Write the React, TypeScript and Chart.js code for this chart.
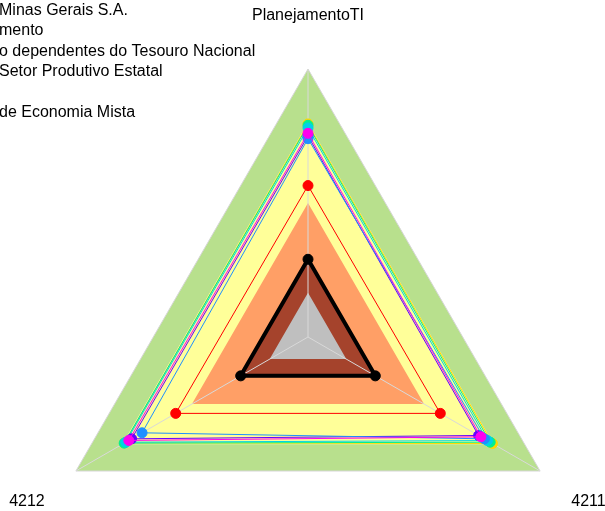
import React, { useEffect, useRef } from "react";
import { Chart, registerables } from "chart.js";

Chart.register(...registerables);

// ---- data ----
const axisLabels = ["PlanejamentoTI", "4211", "4212"];

const bandLevels = [100, 80, 50, 30, 16.5];
const bandColors = ["#B8E08D", "#FFFF99", "#FF9F66", "#A5432C", "#BFBFBF"];

const referenceValues = [29, 29, 29];
const targetValues = [56.5, 57, 57];

const legendLabels = [
  "Companhia Energética de Minas Gerais S.A.",
  "Ministério do Planejamento",
  "Empresas Estatais não dependentes do Tesouro Nacional",
  "Orçamento de Investimento do Setor Produtivo Estatal",
  "Estatais",
  "Sociedade de Economia Mista",
];
const legendHiddenPrefixes = [
  "Companhia Energética de ",
  "Ministério do Planeja",
  "Empresas Estatais nã",
  "Orçamento de Investimento do ",
  "Estatais",
  "Sociedade ",
];

const seriesColors = ["#FFD700", "#00F090", "#00D2E6", "#1E90FF", "#6400FF", "#FF00EE"];
const goldValues = [79.5, 79.5, 79];
const springValues = [79, 78.5, 79.2];
const cyanValues = [78, 77.3, 78.5];
const blueValues = [74, 76, 71.5];
const indigoValues = [75, 73.5, 76];
const magentaValues = [76, 74.5, 77.2];
const seriesValues = [goldValues, springValues, cyanValues, blueValues, indigoValues, magentaValues];
// drawing order (lower = on top)
const seriesOrder = [5, 4, 3, 1, 2, 0];

const FONT = '16px "Liberation Sans", Arial, sans-serif';

const overlayPlugin = {
  id: "overlay",
  afterDraw(chart: any) {
    const ctx = chart.ctx;
    const scale = chart.scales.r;
    ctx.save();
    ctx.font = FONT;
    ctx.fillStyle = "#000";
    ctx.textBaseline = "alphabetic";
    ctx.textAlign = "left";
    legendLabels.forEach((label, i) => {
      const x = -ctx.measureText(legendHiddenPrefixes[i]).width - 1;
      ctx.fillText(label, x, 15 + i * 20.4);
    });
    axisLabels.forEach((label, i) => {
      if (i === 0) {
        const p = scale.getPointPosition(i, scale.drawingArea + 49);
        ctx.textAlign = "center";
        ctx.fillText(label, p.x, p.y);
      } else {
        const p = scale.getPointPosition(i, scale.drawingArea + 36);
        ctx.textAlign = p.x > scale.xCenter ? "left" : "right";
        ctx.fillText(label, p.x, p.y + 17);
      }
    });
    ctx.restore();
  },
};

export default function App() {
  const ref = useRef<HTMLCanvasElement | null>(null);

  useEffect(() => {
    if (!ref.current) return;

    const bandSets = bandLevels.map((lvl, i) => ({
      label: "band" + i,
      data: axisLabels.map(() => lvl),
      backgroundColor: bandColors[i],
      borderColor: "transparent",
      borderWidth: 0,
      pointRadius: 0,
      fill: true,
      order: 20 - i,
    }));

    const colorSets = seriesValues.map((vals, i) => ({
      label: legendLabels[i],
      data: vals,
      borderColor: seriesColors[i],
      backgroundColor: seriesColors[i],
      pointBackgroundColor: seriesColors[i],
      pointBorderColor: seriesColors[i],
      borderWidth: 1,
      pointRadius: 5,
      pointBorderWidth: 1,
      fill: false,
      order: seriesOrder[i],
    }));

    const chart = new Chart(ref.current, {
      type: "radar",
      data: {
        labels: axisLabels,
        datasets: [
          ...colorSets,
          {
            label: "Meta",
            data: targetValues,
            borderColor: "#FF0000",
            backgroundColor: "#FF0000",
            pointBackgroundColor: "#FF0000",
            pointBorderColor: "#FF0000",
            borderWidth: 1,
            pointRadius: 5,
            pointBorderWidth: 1,
            fill: false,
            order: 6,
          },
          {
            label: "Referência",
            data: referenceValues,
            borderColor: "#000000",
            backgroundColor: "#000000",
            pointBackgroundColor: "#000000",
            pointBorderColor: "#000000",
            borderWidth: 4,
            pointRadius: 5,
            pointBorderWidth: 1,
            fill: false,
            order: 7,
          },
          ...bandSets,
        ] as any,
      },
      options: {
        responsive: false,
        animation: false,
        events: [],
        layout: { padding: { left: 40, top: 69, right: 28, bottom: 4 } },
        elements: { line: { tension: 0 } },
        plugins: {
          legend: { display: false },
          tooltip: { enabled: false },
          filler: { drawTime: "beforeDraw" },
        },
        scales: {
          r: {
            min: 0,
            max: 100,
            ticks: { display: false, stepSize: 20 },
            pointLabels: { display: false },
            grid: {
              color: (c: any) => (c.tick && c.tick.value === 100 ? "#d6d6d6" : "transparent"),
              lineWidth: 1,
            },
            angleLines: { color: "#d9d9d9", lineWidth: 1 },
          },
        },
      } as any,
      plugins: [overlayPlugin],
    });

    return () => chart.destroy();
  }, []);

  return (
    <div style={{ position: "fixed", left: 0, top: 0, width: 605, height: 511, overflow: "hidden", background: "#fff" }}>
      <canvas ref={ref} width={605} height={610} style={{ display: "block", width: 605, height: 610 }} />
    </div>
  );
}
